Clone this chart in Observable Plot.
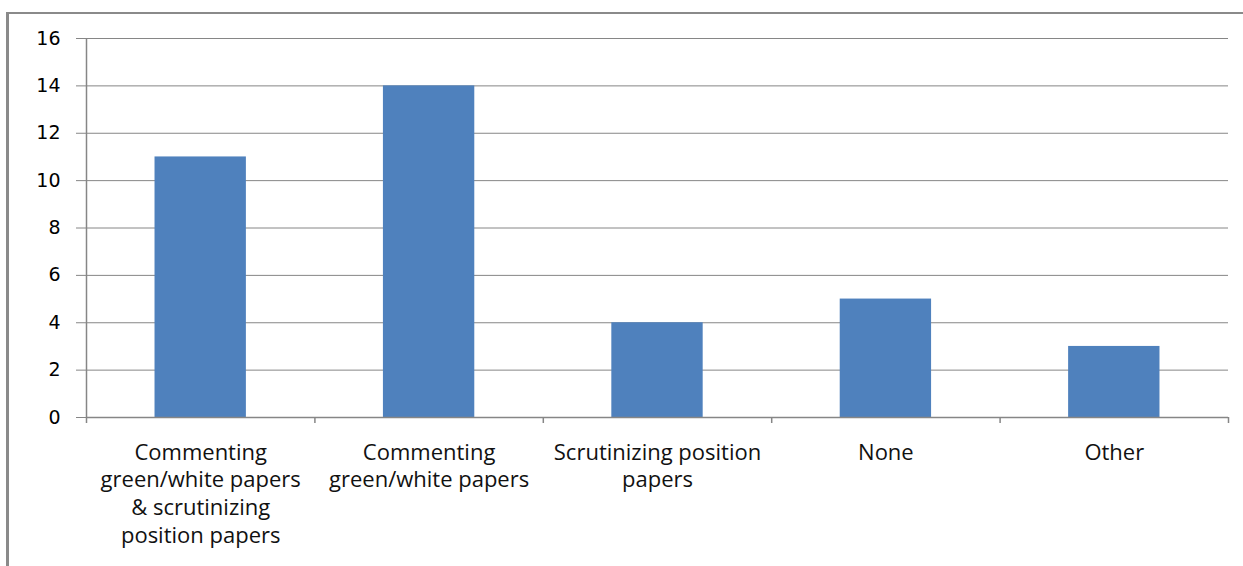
<!DOCTYPE html>
<html>
<head>
<meta charset="utf-8">
<script src="https://cdn.jsdelivr.net/npm/d3@7"></script>
<script src="https://cdn.jsdelivr.net/npm/@observablehq/plot@0.6"></script>
<style>
  html, body { margin: 0; padding: 0; background: #fff; }
  #wrap { position: relative; width: 1243px; height: 566px; overflow: hidden; }
  #frame { position: absolute; left: 6px; top: 12px; width: 1300px; height: 700px; border-top: 2px solid #8a8a8a; border-left: 3px solid #8a8a8a; box-sizing: border-box; }
  #chart { position: absolute; left: 0; top: 0; }
</style>
</head>
<body>
<div id="wrap"><div id="frame"></div><div id="chart"></div></div>
<script>
const categories = [
  "Commenting green/white papers & scrutinizing position papers",
  "Commenting green/white papers",
  "Scrutinizing position papers",
  "None",
  "Other"
];
const values = [11, 14, 4, 5, 3];
const tickLabels = [
  "Commenting\ngreen/white papers\n& scrutinizing\nposition papers",
  "Commenting\ngreen/white papers",
  "Scrutinizing position\npapers",
  "None",
  "Other"
];
const yTicks = [0, 2, 4, 6, 8, 10, 12, 14, 16];
const xBoundaries = [0, 1, 2, 3, 4, 5];

const data = categories.map((c, i) => ({category: c, value: values[i], label: tickLabels[i], i}));
const gray = "#868686";

const chart = Plot.plot({
  width: 1243,
  height: 566,
  marginLeft: 86,
  marginRight: 15,
  marginTop: 38,
  marginBottom: 149,
  style: {background: "transparent", fontFamily: "Liberation Sans, sans-serif"},
  x: {type: "linear", domain: [0, 5], axis: null, label: null},
  y: {type: "linear", domain: [0, 16], axis: null, label: null},
  marks: [
    Plot.gridY(yTicks, {stroke: gray, strokeOpacity: 1, strokeWidth: 1}),
    Plot.axisY(yTicks, {tickSize: 10, tickPadding: 16, stroke: gray, strokeOpacity: 1, fill: "#000", fontSize: 19, fontFamily: "DejaVu Sans, sans-serif", tickFormat: d => String(d), label: null}),
    Plot.rectY(data, {x1: d => d.i + 0.3, x2: d => d.i + 0.7, y1: 0, y2: "value", fill: "#4F81BD"}),
    Plot.ruleY([0], {stroke: gray, strokeWidth: 1.5}),
    Plot.ruleX([0], {y1: 0, y2: 16, stroke: gray, strokeWidth: 1.5}),
    Plot.axisX(xBoundaries, {tickSize: 6, tickFormat: () => "", stroke: gray, strokeOpacity: 1, strokeWidth: 1.5, label: null}),
    Plot.text(data, {x: d => d.i + 0.5, y: 0, text: "label", dy: 22.5, lineAnchor: "top", lineHeight: 1.26, fontSize: 22, fontFamily: "Open Sans, sans-serif", fill: "#111", textAnchor: "middle"})
  ]
});
document.getElementById("chart").appendChild(chart);
</script>
</body>
</html>
